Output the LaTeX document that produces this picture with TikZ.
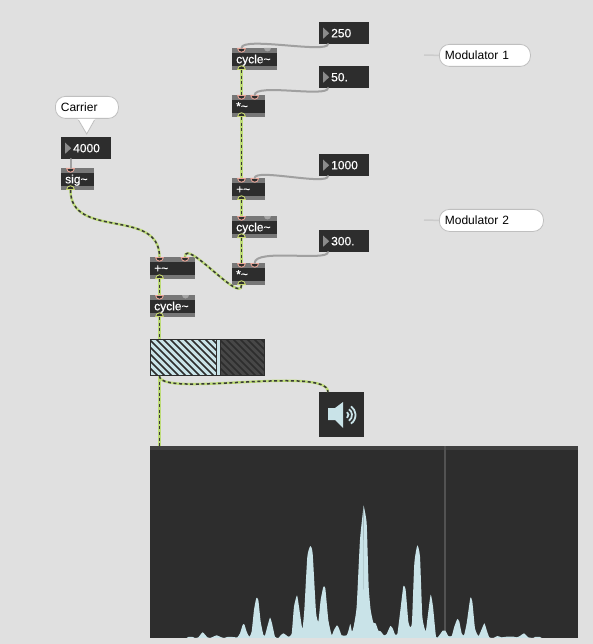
\documentclass[tikz,border=0pt]{standalone}
\usepackage{fontspec}
\setmainfont{Liberation Sans}
\newfontfamily\objfont[FakeBold=0.35]{Liberation Sans}
\usetikzlibrary{shapes.geometric}
\definecolor{bgc}{HTML}{E0E0E0}
\definecolor{boxc}{HTML}{2D2D2D}
\definecolor{bandc}{HTML}{777777}
\definecolor{icec}{HTML}{C9E3E8}
\definecolor{sigc}{HTML}{BEDC78}
\definecolor{cordc}{HTML}{A0A0A0}
\definecolor{pinkc}{HTML}{E8A598}
\definecolor{yelc}{HTML}{C8D870}
\tikzset{
  objbox/.style={rectangle,fill=boxc,anchor=north west,minimum width=#1 pt,minimum height=22pt,
    text width=#1 pt-8pt,inner xsep=4pt,inner ysep=0pt,align=left,text=white,
    font=\objfont\fontsize{12}{12}\selectfont,text height=9.6pt,text depth=1.4pt,
    path picture={
      \fill[bandc] (path picture bounding box.north west) rectangle ([yshift=-4.5pt]path picture bounding box.north east);
      \fill[bandc] (path picture bounding box.south west) rectangle ([yshift=4pt]path picture bounding box.south east);
    }},
  numbox/.style={rectangle,fill=boxc,anchor=north west,minimum width=50pt,minimum height=22pt,
    text width=42pt,inner xsep=4pt,inner ysep=0pt,align=left,text=white,
    font=\objfont\fontsize{12}{12}\selectfont,text height=9.6pt,text depth=1.4pt,
    execute at begin node={\hspace*{8pt}},
    path picture={
      \fill[bandc!85!white] ([xshift=4pt,yshift=-5.5pt]path picture bounding box.north west)
        -- ([xshift=10pt]path picture bounding box.west)
        -- ([xshift=4pt,yshift=5.5pt]path picture bounding box.south west) -- cycle;
    }},
  notebox/.style={rectangle,rounded corners=10pt,fill=white,draw=black!25,line width=.8pt,anchor=north west,
    minimum height=22pt,minimum width=#1 pt,text width=#1 pt-11pt,inner xsep=5.5pt,inner ysep=0pt,
    align=left,text=black,font=\fontsize{12}{12}\selectfont,text height=9.6pt,text depth=1.4pt},
  inport/.style={shape=semicircle,shape border rotate=180,anchor=chord center,fill=boxc,draw=pinkc,
    line width=.9pt,minimum width=6pt,minimum height=3pt,inner sep=1.7pt},
  outport/.style={shape=semicircle,anchor=chord center,fill=boxc,draw=yelc,
    line width=.9pt,minimum width=6pt,minimum height=3pt,inner sep=1.7pt},
  sigcord/.style={preaction={draw=sigc,line width=2.4pt},draw=black!78,line width=1.5pt,dash pattern=on 3pt off 2.6pt},
  ctlcord/.style={draw=cordc,line width=2pt,line cap=round},
  tailcord/.style={draw=black!20,line width=1.5pt},
  scopebox/.style={rectangle,fill=boxc,anchor=north west,inner sep=0pt,outer sep=0pt},
}
\begin{document}
\begin{tikzpicture}[x=1pt,y=-1pt]
\useasboundingbox (0,0) rectangle (593,644);
\fill[bgc] (0,0) rectangle (593,644);

% objects
\node[objbox=45] (cyc1) at (232,48) {cycle\textasciitilde};
\node[objbox=33] (mul1) at (232,95) {*\textasciitilde};
\node[objbox=33] (add1) at (232,178) {+\textasciitilde};
\node[objbox=45] (cyc2) at (232,216) {cycle\textasciitilde};
\node[objbox=33] (mul2) at (232,263) {*\textasciitilde};
\node[objbox=45] (add0) at (150,257) {+\textasciitilde};
\node[objbox=45] (cyc0) at (150,295) {cycle\textasciitilde};
\node[objbox=33] (sig) at (61,168) {sig\textasciitilde};
\node[numbox] (n250) at (319,22) {250};
\node[numbox] (n50) at (319,66) {50.};
\node[numbox] (n1000) at (319,154) {1000};
\node[numbox] (n300) at (319,230) {300.};
\node[numbox] (n4000) at (61,137) {4000};

% grey attribute dots on cycle~
\fill[black!35] (264,48) arc[start angle=180,end angle=360,radius=3.5pt] -- cycle;
\fill[black!35] (182,295) arc[start angle=180,end angle=360,radius=3.5pt] -- cycle;
\fill[black!35] (264,216) arc[start angle=180,end angle=360,radius=3.5pt] -- cycle;

% gain slider
\node[rectangle,fill=icec,anchor=north west,minimum width=115pt,minimum height=37pt,inner sep=0pt,outer sep=0pt] (gain) at (150,339) {};
\begin{scope}
  \clip (151,340) rectangle (216,375);
  \foreach \k in {0,7,...,112} \draw[boxc,line width=1.5pt] (150+\k-36,339) -- (150+\k+1,376);
\end{scope}
\fill[black!72] (220,339.5) rectangle (265,375.5);
\begin{scope}
  \clip (220,340) rectangle (264,375);
  \foreach \k in {0,7,...,91} \draw[boxc,line width=1.5pt] (220+\k-36,339) -- (220+\k+1,376);
\end{scope}
\draw[boxc,line width=1pt] (216,339) -- (216,376) (220,339) -- (220,376);
\draw[boxc,line width=1pt] (150.5,339.5) rectangle (264.5,375.5);

% speaker
\node[rectangle,fill=boxc,anchor=north west,minimum width=45pt,minimum height=45pt,inner sep=0pt] (dac) at (319,392) {};
\fill[icec] (328,408) -- (335,408) -- (343,402) -- (343,428) -- (335,420) -- (328,420) -- cycle;
\foreach \r in {3.5,7,10.5}
  \draw[icec,line width=1.8pt] (345,415) ++(-55:\r pt) arc[start angle=-55,end angle=55,radius=\r pt];

% spectroscope
\node[scopebox,minimum width=428pt,minimum height=192pt] (spec) at (150,446) {};
\fill[black!75] (150,446) rectangle (578,449.5);
\draw[black!68,line width=1.2pt] (445,446) -- (445,638);
\begin{scope}[shift={(150,490)},x=.3333pt,y=-.3333pt]
\fill[icec] plot[smooth,tension=.3] coordinates {(110,444)(115,441)(128,441)(135,444)(145,442)(158,427)(172,442)(180,444)(190,440)(200,436)(212,441)(222,444)(232,441)(248,441)(262,442)(270,430)(278,405)(283,403)(290,425)(298,440)(305,425)(312,360)(319,324)(325,330)(332,395)(340,434)(345,436)(352,410)(360,383)(366,400)(375,440)(385,444)(392,436)(400,430)(408,435)(415,440)(425,432)(432,350)(441,316)(447,350)(457,416)(463,360)(472,200)(481,168)(488,190)(498,365)(505,395)(512,330)(520,291)(526,295)(535,390)(545,435)(552,420)(561,406)(567,415)(575,436)(590,436)(596,420)(601,402)(606,425)(611,410)(620,350)(630,150)(641,46)} -- (641,444) -- cycle;
\end{scope}
\begin{scope}[shift={(360,490)},x=.3333pt,y=-.3333pt]
\fill[icec] (9,444) -- plot[smooth,tension=.3] coordinates {(11,47)(20,100)(26,290)(32,360)(40,398)(47,400)(55,422)(62,424)(72,436)(80,432)(91,408)(98,415)(105,433)(112,432)(120,370)(130,289)(137,300)(145,395)(151,412)(156,395)(163,220)(172,166)(180,200)(187,380)(197,424)(203,380)(212,314)(219,350)(228,440)(235,440)(248,422)(256,422)(265,438)(275,438)(283,410)(292,387)(298,395)(305,430)(312,436)(320,400)(331,324)(337,335)(345,415)(355,438)(362,425)(373,400)(380,420)(388,442)(400,444)(412,438)(425,442)(440,440)(460,440)(470,442)(480,438)(492,430)(505,442)(520,444)(525,441)(540,441)(545,444)} -- cycle;
\end{scope}

% ports
\foreach \nm/\xx/\yy in {cyc1i/241.5/48,mul1i/241.5/95,mul1j/254.7/95,add1i/241.5/178,add1j/254.7/178,cyc2i/241.5/216,mul2i/241.5/263,mul2j/254.7/263,add0i/159.5/257,add0j/185/257,cyc0i/159.5/295,sigi/70.5/168}
  \node[inport] (\nm) at (\xx,\yy) {};
\foreach \nm/\xx/\yy in {cyc1o/241.5/70,mul1o/241.5/117,add1o/241.5/200,cyc2o/241.5/238,mul2o/241.5/285,add0o/159.5/279,cyc0o/159.5/317,sigo/70.5/190}
  \node[outport] (\nm) at (\xx,\yy) {};
\coordinate (n250o) at (328,44);
\coordinate (n50o) at (328,88);
\coordinate (n1000o) at (328,176);
\coordinate (n300o) at (328,252);
\coordinate (n4000o) at (70.5,159);
\coordinate (gaini) at (159.5,339);
\coordinate (gaino) at (159.5,376);
\coordinate (daci) at (328,392);
\coordinate (speci) at (159.5,446);

% control cords
\draw[ctlcord] (n250o) .. controls (328,54) and (241.5,36) .. (cyc1i.chord center);
\draw[ctlcord] (n50o) .. controls (328,98) and (254.7,83) .. (mul1j.chord center);
\draw[ctlcord] (n1000o) .. controls (328,186) and (254.7,168) .. (add1j.chord center);
\draw[ctlcord] (n300o) .. controls (328,262) and (254.7,248) .. (mul2j.chord center);
\draw[ctlcord] (n4000o) -- (sigi.chord center);

% signal cords
\draw[sigcord] (cyc1o.chord center) -- (mul1i.chord center);
\draw[sigcord] (mul1o.chord center) -- (add1i.chord center);
\draw[sigcord] (add1o.chord center) -- (cyc2i.chord center);
\draw[sigcord] (cyc2o.chord center) -- (mul2i.chord center);
\draw[sigcord] (mul2o.chord center) .. controls (241.5,305) and (185,237) .. (add0j.chord center);
\draw[sigcord] (sigo.chord center) .. controls (70.5,240) and (159.5,207) .. (add0i.chord center);
\draw[sigcord] (add0o.chord center) -- (cyc0i.chord center);
\draw[sigcord] (cyc0o.chord center) -- (gaini);
\draw[sigcord] (gaino) -- (speci);
\draw[sigcord] (gaino) .. controls (159.5,398) and (328,365) .. (daci);

% comments
\node[notebox=63] (carrier) at (55,96) {Carrier};
\fill[white] (78,119) -- (86.7,134) -- (95,119) -- cycle;
\draw[black!25,line width=.8pt] (78.5,120) -- (86.7,134) -- (94.5,120);
\node[notebox=91] (mod1) at (439,44) {Modulator 1};
\node[notebox=104] (mod2) at (439,209) {Modulator 2};
\coordinate (mod1t) at (424,55);
\coordinate (mod2t) at (424,220);
\draw[tailcord] (mod1t) -- (mod1.west);
\draw[tailcord] (mod2t) -- (mod2.west);
\end{tikzpicture}
\end{document}
